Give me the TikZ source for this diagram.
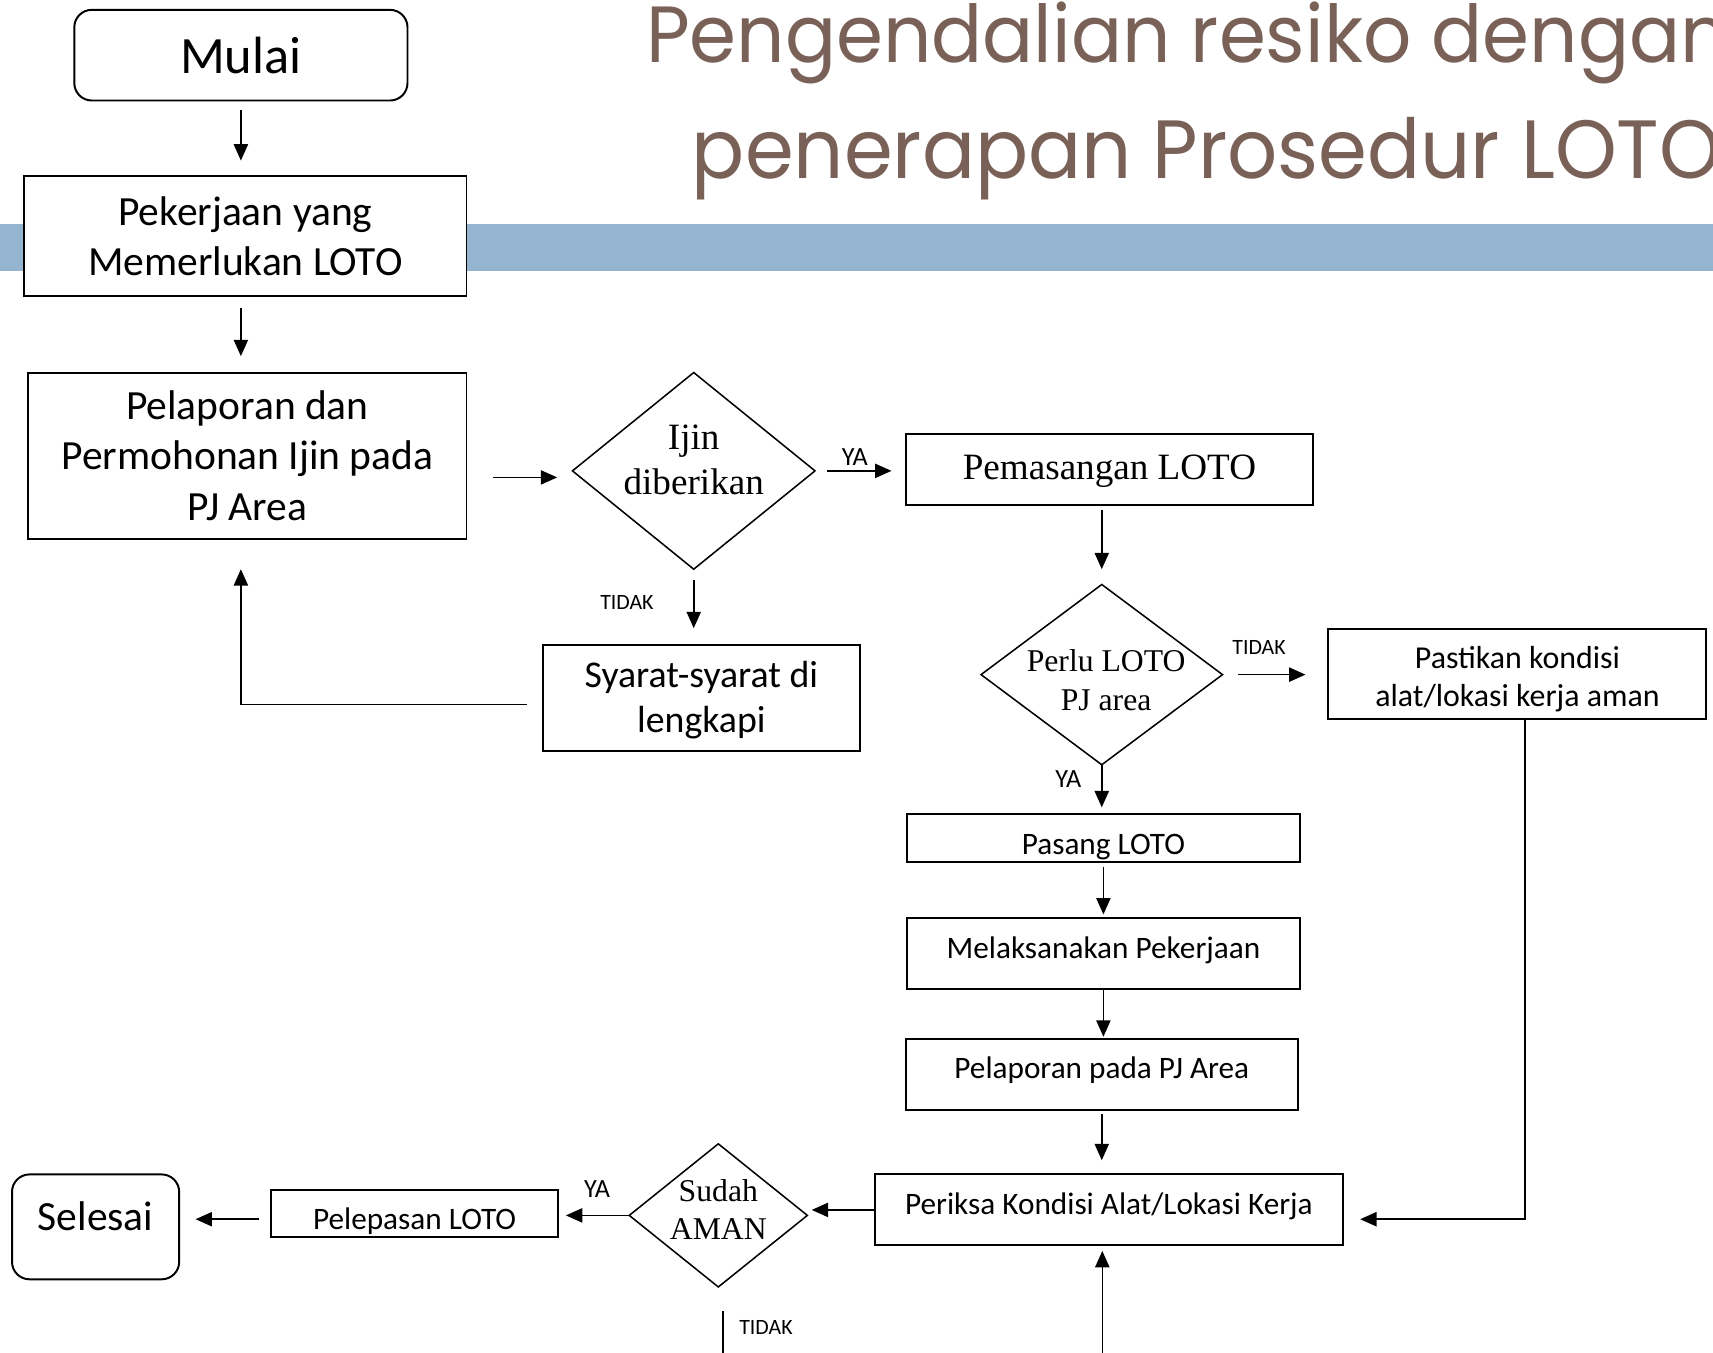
\documentclass[tikz,border=0pt]{standalone}
\usepackage{graphicx}
\usepackage{fontspec}
\setmainfont{Carlito}
\newfontfamily\serifface{Liberation Serif}
\newfontfamily\titleface{Poppins}
\usetikzlibrary{shapes.geometric,arrows.meta,calc}
\definecolor{titlebrown}{HTML}{7A6157}
\definecolor{barblue}{HTML}{94B4D0}
\begin{document}
\begin{tikzpicture}[x=0.5pt,y=-0.5pt,
  box/.style={draw, line width=0.9pt, fill=white, inner sep=0pt, outer sep=0pt, align=center},
  term/.style={box, rounded corners=8pt},
  dia/.style={draw, diamond, line width=0.7pt, inner sep=0pt, outer sep=0pt},
  arr/.style={line width=0.75pt, -{Triangle[length=7.5pt,width=6.5pt]}},
  plain/.style={line width=0.75pt},
  lbl/.style={font=\fontsize{10pt}{12pt}\selectfont, inner sep=0pt},
  ylbl/.style={font=\fontsize{12pt}{14pt}\selectfont, inner sep=0pt},
  big/.style={font=\fontsize{19pt}{23pt}\selectfont},
  mid/.style={font=\fontsize{14.3pt}{17.5pt}\selectfont},
  ser/.style={font=\serifface\fontsize{17pt}{20.5pt}\selectfont},
  sers/.style={font=\serifface\fontsize{14.5pt}{17.5pt}\selectfont},
]
\useasboundingbox (0,0) rectangle (1568,1238);
\clip (0,0) rectangle (1568,1238);

% header
\fill[barblue] (0,205) rectangle (1568,248);
\node[anchor=base west, inner sep=0pt, text=titlebrown] (title1) at (591,57)
  {\resizebox{495.5pt}{27.75pt}{\titleface Pengendalian resiko dengan}};
\node[anchor=base west, inner sep=0pt, text=titlebrown] (title2) at (633,163)
  {\resizebox{471pt}{28pt}{\titleface penerapan Prosedur LOTO}};

% nodes
\node[term, font=\fontsize{24pt}{28pt}\selectfont, minimum width=152.5pt, minimum height=41.5pt] (mulai) at (220.5,50.5) {Mulai};
\node[box, big, minimum width=202.5pt, minimum height=55pt] (pek) at (224.5,216) {Pekerjaan yang\\Memerlukan LOTO};
\node[box, big, minimum width=200.5pt, minimum height=76pt] (pel) at (226.5,417) {Pelaporan dan\\Permohonan Ijin pada\\PJ Area};
\node[dia, minimum width=111pt, minimum height=90pt,
  label={[ser, align=center, yshift=5pt]center:Ijin\\diberikan}] (ijin) at (635,431) {};
\node[box, minimum width=145pt, minimum height=48.5pt,
  label={[font=\fontsize{17.3pt}{20.5pt}\selectfont, align=center, yshift=-1pt]center:Syarat-syarat di\\lengkapi}] (syarat) at (642,638.5) {};
\node[box, ser, minimum width=186.5pt, minimum height=32.5pt, text height=13pt, text depth=3.5pt] (pem) at (1015.5,429.5) {Pemasangan LOTO};
\node[dia, minimum width=110.5pt, minimum height=82.5pt,
  label={[sers, align=center, xshift=2pt, yshift=-2.5pt]center:Perlu LOTO\\PJ area}] (perlu) at (1008.5,617.5) {};
\node[box, minimum width=173pt, minimum height=41pt,
  label={[font=\fontsize{14.6pt}{17.5pt}\selectfont, align=center, yshift=-2.5pt]center:Pastikan kondisi\\alat/lokasi kerja aman}] (pas) at (1389,617) {};
\node[box, mid, minimum width=180pt, minimum height=22pt, text height=18pt, text depth=3pt] (pasang) at (1010,767) {Pasang LOTO};
\node[box, mid, minimum width=180pt, minimum height=32.5pt, text height=10pt, text depth=5.5pt] (mel) at (1010,872.5) {Melaksanakan Pekerjaan};
\node[box, mid, minimum width=179.5pt, minimum height=32.5pt, text height=10pt, text depth=6.5pt] (pelpj) at (1008.5,983.5) {Pelaporan pada PJ Area};
\node[box, mid, minimum width=214pt, minimum height=32.5pt, text height=10pt, text depth=5.5pt] (per) at (1015,1107.5) {Periksa Kondisi Alat/Lokasi Kerja};
\node[dia, minimum width=81.5pt, minimum height=65.5pt,
  label={[sers, align=center, yshift=2.75pt]center:Sudah\\AMAN}] (sudah) at (657.5,1112.5) {};
\node[box, mid, minimum width=131.5pt, minimum height=21.5pt, text height=18pt, text depth=3pt] (lep) at (379.5,1110.5) {Pelepasan LOTO};
\node[term, big, minimum width=76.5pt, minimum height=48pt, text depth=10pt] (sel) at (87.5,1123) {Selesai};

\coordinate (bot) at ($(per.south)+(-3pt,-60pt)$);
\coordinate (tidakend) at ($(sudah.south)+(2.25pt,-45pt)$);

% connectors
\draw[arr, shorten <=4.5pt, shorten >=7pt] (mulai.south) -- (mulai.south |- pek.north);
\draw[arr, shorten <=5.5pt, shorten >=7.5pt] (mulai.south |- pek.south) -- (mulai.south |- pel.north);
\draw[arr, shorten <=12pt, shorten >=7pt] ($(pel.east |- ijin.west)+(0,-3pt)$) -- ($(ijin.west)+(0,-3pt)$);
\draw[arr, shorten <=5.5pt, shorten >=6.5pt] (ijin.east) -- node[ylbl, above=2pt, xshift=-2.5pt]{YA} (ijin.east -| pem.west);
\draw[arr, shorten <=5pt, shorten >=7.5pt] (ijin.south) -- node[lbl, left=18pt, yshift=2pt]{TIDAK} (ijin.south |- syarat.north);
\draw[arr, shorten >=14pt] ($(syarat.west)+(-7.5pt,-3.25pt)$) -| (mulai.south |- pel.south);
\draw[arr, shorten <=2.5pt, shorten >=7pt] (pem.south -| perlu.north) -- (perlu.north);
\draw[arr, shorten <=7pt, shorten >=10.5pt] (perlu.east) -- node[lbl, above=9pt, xshift=-7.5pt]{TIDAK} (perlu.east -| pas.west);
\draw[arr, shorten >=3pt] (perlu.south) -- node[ylbl, left=9pt, pos=0.3]{YA} (perlu.south |- pasang.north);
\draw[arr, shorten <=2.5pt, shorten >=1.5pt] (pasang.south) -- (mel.north);
\draw[arr, shorten >=1pt] (mel.south) -- (mel.south |- pelpj.north);
\draw[arr, shorten <=2pt, shorten >=6.5pt] (pelpj.south) -- (pelpj.south |- per.north);
\draw[arr, shorten >=8pt] ($(pas.south)+(3.5pt,0)$) |- ($(per.east)+(0,-4.25pt)$);
\draw[arr, shorten >=2pt] (per.west) -- (per.west -| sudah.east);
\draw[arr, shorten >=2.5pt] (bot) -- (bot |- per.south);
\draw[arr, shorten >=3.5pt] (sudah.west) -- node[ylbl, above=8pt, xshift=1.5pt]{YA} (sudah.west -| lep.east);
\draw[arr, shorten <=5.5pt, shorten >=7.5pt] ($(lep.west)+(0,-2.75pt)$) -- ($(lep.west -| sel.east)+(0,-2.75pt)$);
\draw[plain] ($(sudah.south)+(2.25pt,-11pt)$) -- node[lbl, right=7pt, pos=0.22]{TIDAK} (tidakend);
\end{tikzpicture}
\end{document}
